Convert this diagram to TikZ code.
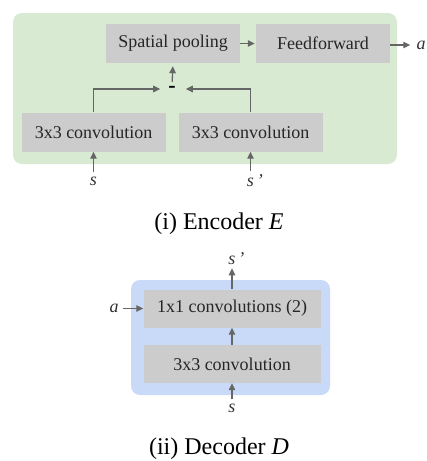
\documentclass[tikz,border=0pt]{standalone}
\usepackage{fontspec}
\setmainfont{Liberation Serif}
\usepackage{tikz}
\usetikzlibrary{arrows.meta,positioning}
\definecolor{encgreen}{HTML}{D9EAD3}
\definecolor{decblue}{HTML}{C9DAF8}
\definecolor{boxgray}{HTML}{CCCCCC}
\definecolor{linegray}{HTML}{666666}

\begin{document}
\begin{tikzpicture}[x=1pt,y=-1pt,
  block/.style={fill=boxgray, minimum height=39pt, inner sep=0pt, text=black!85,
    font=\fontsize{18}{22}\selectfont},
  flow/.style={linegray, line width=1.3pt, -{Triangle[length=7pt,width=6.5pt]}},
  sym/.style={font=\fontsize{18}{22}\selectfont\itshape, text=black!80, inner sep=1pt},
  caption/.style={font=\fontsize{24}{28}\selectfont}]
\useasboundingbox (0,0) rectangle (427,461);

% encoder
\fill[encgreen, rounded corners=9pt] (13,13) rectangle (397,164);
\node[block, minimum width=134pt] (pool) at (173,43.5) {Spatial pooling};
\node[block, minimum width=134pt] (ff) at (323,43.5) {Feedforward};
\node[block, minimum width=144pt] (convl) at (93.5,132) {3x3 convolution};
\node[block, minimum width=144pt] (convr) at (250.5,132) {3x3 convolution};
\node[font=\bfseries\fontsize{22}{26}\selectfont, inner sep=0pt] (diff) at (172,89) {-};
\draw[flow, shorten >=8pt] (convl.north) |- (diff.west);
\draw[flow, shorten >=10pt] (convr.north) |- (diff.east);
\draw[flow, shorten <=4pt, shorten >=3pt] (diff.north) -- (pool.south);
\draw[flow, shorten >=1pt] (pool) -- (ff);
\node[sym] (aout) at (421,45) {a};
\draw[flow, shorten >=5pt] (ff.east |- aout) -- (aout);
\node[sym] (sl) at (93.5,181) {s};
\node[sym] (sr) at (250.5,181) {s\rlap{\,'}};
\draw[flow, shorten <=3pt] (sl) -- (convl);
\draw[flow, shorten <=3pt] (sr) -- (convr);
\node[caption] (enccap) at (219,224) {(i) Encoder \textit{E}};

% decoder
\fill[decblue, rounded corners=9pt] (131,280) rectangle (330,395);
\node[block, minimum width=177pt, minimum height=38pt] (onebyone) at (232,308.5) {1x1 convolutions (2)};
\node[block, minimum width=177pt, minimum height=38pt] (threebythree) at (232,364) {3x3 convolution};
\draw[flow] (threebythree) -- (onebyone);
\node[sym] (sout) at (232,259) {s\rlap{\,'}};
\draw[flow, shorten >=2pt] (onebyone) -- (sout);
\node[sym] (sin) at (232,408) {s};
\draw[flow, shorten <=3pt] (sin) -- (threebythree);
\node[sym] (ain) at (114,308.5) {a};
\draw[flow, shorten <=3pt] (ain) -- (onebyone);
\node[caption] (deccap) at (219,449) {(ii) Decoder \textit{D}};
\end{tikzpicture}
\end{document}
